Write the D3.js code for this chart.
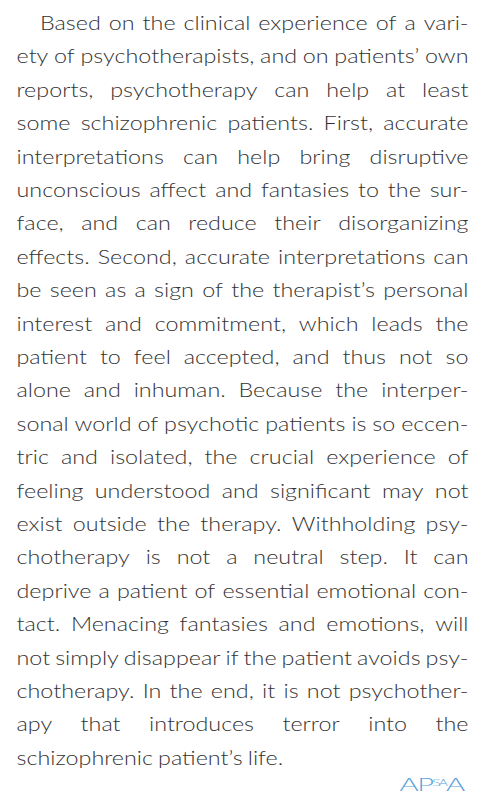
<!DOCTYPE html>
<html><head><meta charset="utf-8">
<script src="https://cdn.jsdelivr.net/npm/d3@7"></script>
<style>
html,body{margin:0;padding:0;background:#fff;}
svg{display:block;}
</style></head>
<body>
<script>
const lines = [
"Based on the clinical experience of a vari-",
"ety of psychotherapists, and on patients’ own",
"reports, psychotherapy can help at least",
"some schizophrenic patients. First, accurate",
"interpretations can help bring disruptive",
"unconscious affect and fantasies to the sur-",
"face, and can reduce their disorganizing",
"effects. Second, accurate interpretations can",
"be seen as a sign of the therapist’s personal",
"interest and commitment, which leads the",
"patient to feel accepted, and thus not so",
"alone and inhuman. Because the interper-",
"sonal world of psychotic patients is so eccen-",
"tric and isolated, the crucial experience of",
"feeling understood and significant may not",
"exist outside the therapy. Withholding psy-",
"chotherapy is not a neutral step. It can",
"deprive a patient of essential emotional con-",
"tact. Menacing fantasies and emotions, will",
"not simply disappear if the patient avoids psy-",
"chotherapy. In the end, it is not psychother-",
"apy that introduces terror into the",
"schizophrenic patient’s life."
];
const logoParts = ["A","P","SA","A"];

const W = 487, H = 798;
const left = 16.5, right = 468.5, indent = 40;
const baseline0 = 30, lineStep = 33.4;
const fontSize = 19.5;
const minGap = 5.0;

const svg = d3.select("body").append("svg").attr("width", W).attr("height", H);

const y = d3.scaleLinear().domain([0, 1]).range([baseline0, baseline0 + lineStep]);

const g = svg.append("g")
  .attr("font-family", "Lato, 'Open Sans', sans-serif")
  .attr("font-weight", 300)
  .attr("font-size", fontSize)
  .attr("fill", "#333");

// measure
const rows = lines.map((ln, i) => {
  const words = ln.split(" ");
  const texts = words.map(w => g.append("text").attr("y", y(i)).text(w));
  const widths = texts.map(t => t.node().getComputedTextLength());
  return {i, words, texts, widths, total: d3.sum(widths), x0: i === 0 ? indent : left};
});
// global horizontal scale so the tightest justified line has minimal gaps
const sx = d3.min(rows.slice(0, -1), r => (right - r.x0 - minGap * (r.words.length - 1)) / r.total);

rows.forEach(r => {
  const isLast = r.i === lines.length - 1;
  const gap = isLast ? minGap : (right - r.x0 - r.total * sx) / Math.max(1, r.words.length - 1);
  let x = r.x0;
  r.texts.forEach((t, k) => {
    t.attr("x", 0).attr("y", 0)
     .attr("transform", `translate(${x},${y(r.i)}) scale(${sx},1)`);
    x += r.widths[k] * sx + gap;
  });
});

// logo
const logo = svg.append("text")
  .attr("font-family", "'DejaVu Sans', sans-serif")
  .attr("fill", "#5a9fdb")
  .attr("transform", "translate(399,791) scale(1.75,1)");
const sizes = [17, 17, 8, 17];
const shifts = [0, 0, -5, 5];
logoParts.forEach((p, k) => {
  logo.append("tspan").attr("font-size", sizes[k])
    .attr("dy", shifts[k])
    .attr("font-weight", 300)
    .attr("letter-spacing", -1.5)
    .text(p);
});
</script>
</body></html>
